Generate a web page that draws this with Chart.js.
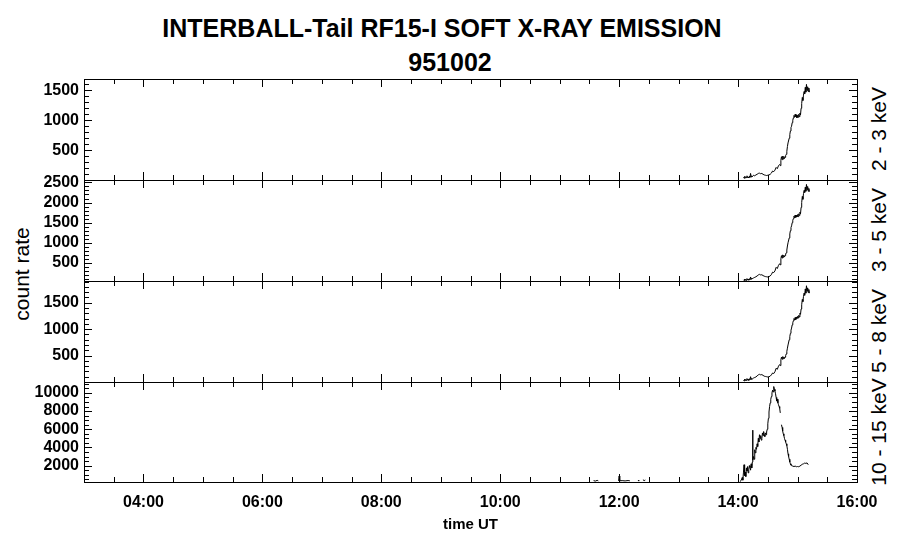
<!DOCTYPE html>
<html><head><meta charset="utf-8">
<script src="https://cdn.jsdelivr.net/npm/chart.js@4"></script>
<style>
html,body{margin:0;padding:0;background:#fff;}
body{width:900px;height:548px;position:relative;overflow:hidden;font-family:"Liberation Sans",Arial,sans-serif;color:#000;}
canvas{position:absolute;left:0;top:0;}
.t{position:absolute;white-space:nowrap;line-height:1;transform:translate(-50%,-50%);}
.r{position:absolute;white-space:nowrap;line-height:1;transform:translate(-50%,-50%) rotate(-90deg);font-size:21px;}
</style>
</head><body>
<div class="t" id="t1" style="left:442px;top:28px;font-size:25px;font-weight:bold;">INTERBALL-Tail RF15-I SOFT X-RAY EMISSION</div>
<div class="t" id="t2" style="left:450px;top:62px;font-size:25px;font-weight:bold;">951002</div>
<div class="r" style="left:21px;top:274px;">count rate</div>
<div class="r" style="left:878px;top:129px;">2 - 3 keV</div>
<div class="r" style="left:878px;top:230px;">3 - 5 keV</div>
<div class="r" style="left:878px;top:331px;">5 - 8 keV</div>
<div class="r" style="left:878px;top:432px;">10 - 15 keV</div>
<canvas id="c1" width="900" height="548"></canvas>
<canvas id="c2" width="900" height="548"></canvas>
<canvas id="c3" width="900" height="548"></canvas>
<canvas id="c4" width="900" height="548"></canvas>
<script>
// ---------- data (hours UT, count rate) ----------
const hours1 = [14.09,14.10,14.11,14.12,14.13,14.14,14.15,14.16,14.17,14.18,14.19,14.20,14.21,14.22,14.23,14.24,14.26,14.28,14.30,14.32,14.34,14.36,14.38,14.40,14.42,14.44,14.46,14.48,14.50,14.52,14.54,14.56,14.58,14.60,14.62,14.64,14.66,14.68,14.70,14.71,14.72,14.73,14.74,14.75,14.76,14.77,14.78,14.79,14.80,14.81,14.82,14.83,14.84,14.86,14.87,14.88,14.89,14.90,14.91,14.92,14.93,14.94,14.95,14.96,14.97,14.98,14.99,15.00,15.01,15.02,15.03,15.04,15.05,15.06,15.07,15.08,15.09,15.10,15.11,15.12,15.13,15.14,15.15,15.16,15.17,15.18,15.19,15.20];
const rate1 = [45,30,60,35,55,40,70,40,50,35,65,45,110,50,70,55,80,70,85,95,110,115,105,110,95,85,80,75,80,85,95,115,150,140,165,210,190,240,260,240,330,390,340,400,350,395,360,380,410,430,480,560,620,700,760,820,880,900,960,1000,1040,1080,1050,1100,1060,1090,1040,1080,1050,1100,1060,1120,1090,1200,1280,1380,1330,1420,1480,1440,1550,1470,1600,1500,1560,1480,1540,1470];

const hours2 = hours1;
const rate2 = [80,60,100,70,95,65,110,75,95,70,105,85,150,95,120,100,130,140,155,175,200,215,200,205,185,170,160,155,150,160,175,210,270,260,300,390,360,440,480,450,600,680,620,700,640,690,650,680,720,750,820,920,1000,1120,1220,1300,1380,1420,1500,1560,1600,1660,1620,1690,1630,1680,1640,1700,1650,1720,1680,1760,1720,1880,2000,2150,2080,2220,2300,2250,2380,2280,2450,2320,2400,2280,2350,2270];

const hours3 = hours1;
const rate3 = [35,20,55,30,50,30,65,35,50,30,60,45,100,50,70,55,75,85,95,115,135,145,135,140,125,110,105,100,95,100,110,135,170,160,195,260,240,300,330,310,420,470,430,480,440,475,445,470,500,530,580,640,700,800,860,920,980,1020,1080,1120,1160,1200,1170,1220,1180,1230,1200,1240,1210,1260,1230,1300,1280,1380,1460,1560,1520,1620,1680,1640,1760,1680,1820,1720,1780,1690,1750,1680];

const hours4 = [11.57,11.60,11.63,11.65,11.66,11.99,12.00,12.01,12.05,12.10,12.15,12.18,12.19,12.32,12.33,12.34,12.40,12.42,12.44,12.45,
 14.03,14.05,14.07,14.08,14.09,14.10,14.11,14.12,14.13,14.14,14.15,14.16,14.17,14.18,14.19,14.20,14.21,14.22,14.23,14.24,14.245,14.25,14.26,14.27,14.28,14.29,14.30,14.31,14.32,14.33,14.34,14.35,14.36,14.37,14.38,14.39,14.40,14.41,14.42,14.43,14.44,14.45,14.46,14.47,14.48,14.49,14.50,14.51,14.52,14.53,14.54,14.55,14.56,14.57,14.58,14.59,14.60,14.61,14.62,14.63,14.64,14.65,14.66,14.67,14.68,14.69,14.70,14.71,14.715,14.73,14.74,14.75,14.76,14.77,14.78,14.79,14.80,14.81,14.82,14.83,14.84,14.85,14.86,14.87,14.88,14.89,14.90,14.92,14.94,14.96,14.98,15.00,15.02,15.04,15.06,15.08,15.10,15.12,15.14,15.16,15.18];
const rate4 = [350,300,380,320,null,320,860,330,350,320,360,330,null,400,300,null,450,350,420,null,
 250,350,700,400,1200,2100,900,1300,800,1750,1400,1900,1200,1600,2000,1800,1500,2200,1750,2400,5900,2600,3000,2700,3750,3400,4000,3800,4400,4100,5000,4600,5400,5000,5300,4800,5000,5600,5300,5750,5400,5200,5600,5400,5700,6000,6600,7200,7900,8500,8900,9300,9600,10000,10300,10100,10700,10400,10200,9900,9500,9100,9300,8900,8700,8500,8300,7800,null,6500,6200,5800,5500,5300,5000,4800,4600,4400,4200,3800,3300,3000,2700,2400,2200,2050,2000,1950,1900,1950,1880,1900,1880,1950,2050,2150,2200,2280,2250,2300,2100,2150];

// ---------- axes ----------
const xRange = [3, 16];
const xLabelHours = [4, 6, 8, 10, 12, 14, 16];
const xMinorStepHours = 0.5;
const panelYRange = [[0, 1690], [50, 2560], [0, 1910], [200, 11200]];
const panelYLabels = [[500, 1000, 1500], [500, 1000, 1500, 2000, 2500], [500, 1000, 1500], [2000, 4000, 6000, 8000, 10000]];
const panelYMinorStep = [100, 100, 100, 500];
const panelYMajorStep = [500, 500, 500, 2000];

// panel frames (pixels)
const PLOT_LEFT = 84, PLOT_RIGHT = 857;
const panelTop = [79, 180, 281, 382];
const panelBottom = [180, 281, 382, 482];

Chart.defaults.font.family = "'Liberation Sans', Arial, sans-serif";
Chart.defaults.color = '#000';

const tickPlugin = {
  id: 'idlTicks',
  afterDraw(chart, args, opts) {
    const {ctx, chartArea: a, scales: {x, y}} = chart;
    ctx.save();
    ctx.strokeStyle = '#000';
    ctx.lineWidth = 1;
    ctx.beginPath();
    const nX = Math.round((xRange[1] - xRange[0]) / xMinorStepHours);
    for (let i = 0; i <= nX; i++) {
      const h = xRange[0] + i * xMinorStepHours;
      const px = Math.round(x.getPixelForValue(h)) + 0.5;
      const major = xLabelHours.includes(h);
      const len = major ? 8 : 5;
      ctx.moveTo(px, a.top); ctx.lineTo(px, a.top + len);
      ctx.moveTo(px, a.bottom); ctx.lineTo(px, a.bottom - len);
    }
    const p = opts.panel;
    const step = panelYMinorStep[p], mstep = panelYMajorStep[p];
    const [y0, y1] = panelYRange[p];
    for (let v = Math.ceil(y0 / step) * step; v <= y1; v += step) {
      const py = Math.round(y.getPixelForValue(v)) + 0.5;
      if (py <= a.top + 1 || py >= a.bottom - 1) continue;
      const len = (v % mstep === 0) ? 8 : 5;
      ctx.moveTo(a.left, py); ctx.lineTo(a.left + len, py);
      ctx.moveTo(a.right, py); ctx.lineTo(a.right - len, py);
    }
    ctx.stroke();
    ctx.strokeRect(Math.round(a.left) + 0.5, Math.round(a.top) + 0.5, Math.round(a.width), Math.round(a.height));
    ctx.restore();
  }
};

function two(h) { return (h < 10 ? '0' : '') + h + ':00'; }

function makePanel(id, p, hours, rates) {
  const data = hours.map((h, i) => ({x: h, y: rates[i]}));
  const showX = (p === 3);
  const xAxisH = showX ? 52 : 0;
  new Chart(document.getElementById(id), {
    type: 'line',
    data: {datasets: [{data, borderColor: '#000', borderWidth: 1, pointRadius: 0, tension: 0, spanGaps: false, fill: false}]},
    options: {
      responsive: false, animation: false, events: [],
      layout: {padding: {left: PLOT_LEFT - 80, right: 900 - PLOT_RIGHT, top: panelTop[p], bottom: 548 - panelBottom[p] - xAxisH}},
      plugins: {legend: {display: false}, tooltip: {enabled: false}, idlTicks: {panel: p}},
      scales: {
        x: {
          type: 'linear', min: xRange[0], max: xRange[1], display: showX,
          grid: {display: false, drawTicks: false}, border: {display: false},
          afterBuildTicks: s => { s.ticks = xLabelHours.map(v => ({value: v})); },
          afterFit: s => { s.height = xAxisH; },
          ticks: {autoSkip: false, maxRotation: 0, padding: 11, font: {size: 16, weight: 'bold'}, callback: v => two(v)},
          title: {display: true, text: 'time UT', font: {size: 15, weight: 'bold'}, padding: {top: 2, bottom: 0}}
        },
        y: {
          type: 'linear', min: panelYRange[p][0], max: panelYRange[p][1],
          grid: {display: false, drawTicks: false}, border: {display: false},
          afterBuildTicks: s => { s.ticks = panelYLabels[p].map(v => ({value: v})); },
          afterFit: s => { s.width = 80; },
          ticks: {autoSkip: false, padding: 5, font: {size: 16, weight: 'bold'}, callback: v => String(v)}
        }
      }
    },
    plugins: [tickPlugin]
  });
}

makePanel('c1', 0, hours1, rate1);
makePanel('c2', 1, hours2, rate2);
makePanel('c3', 2, hours3, rate3);
makePanel('c4', 3, hours4, rate4);
</script>
</body></html>
